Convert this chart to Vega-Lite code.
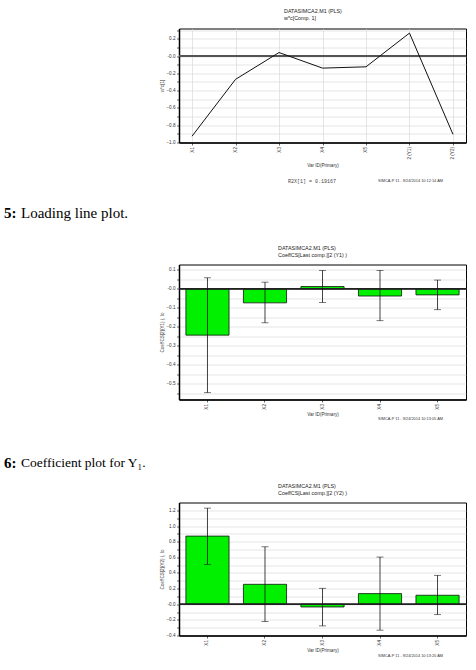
{
  "$schema": "https://vega.github.io/schema/vega-lite/v6.json",
  "background": "white",
  "padding": {"left": 4, "top": 7.5, "right": 0, "bottom": 0},
  "bounds": "flush",
  "spacing": 0,
  "config": {
    "font": "Liberation Sans",
    "view": {"stroke": "#000", "strokeWidth": 1},
    "axis": {
      "labelFont": "Liberation Sans", "labelFontSize": 4.6, "labelColor": "#333",
      "titleFont": "Liberation Sans", "titleFontSize": 4.6, "titleFontWeight": "normal", "titleColor": "#333",
      "domainColor": "#000", "domainWidth": 1.5, "tickColor": "#000", "tickSize": 2.5, "tickWidth": 0.6,
      "gridColor": "#d4d4d4", "gridWidth": 0.6, "labelPadding": 1.5,
      "labelOverlap": false, "labelFlush": false, "labelBound": false
    },
    "title": {"font": "Liberation Sans", "fontSize": 5.4, "fontWeight": "normal", "color": "#222", "anchor": "start", "frame": "group", "offset": 6, "lineHeight": 7}
  },
  "datasets": {
    "loadings": [
      {"var": "X1", "wc": -0.927},
      {"var": "X2", "wc": -0.27},
      {"var": "X3", "wc": 0.04},
      {"var": "X4", "wc": -0.14},
      {"var": "X5", "wc": -0.125},
      {"var": "2 (Y1)", "wc": 0.265},
      {"var": "2 (Y2)", "wc": -0.905}
    ],
    "coefY1": [
      {"var": "X1", "coef": -0.244, "lo": -0.547, "hi": 0.058},
      {"var": "X2", "coef": -0.074, "lo": -0.179, "hi": 0.035},
      {"var": "X3", "coef": 0.012, "lo": -0.072, "hi": 0.097},
      {"var": "X4", "coef": -0.038, "lo": -0.168, "hi": 0.097},
      {"var": "X5", "coef": -0.032, "lo": -0.11, "hi": 0.046}
    ],
    "coefY2": [
      {"var": "X1", "coef": 0.872, "lo": 0.51, "hi": 1.23},
      {"var": "X2", "coef": 0.255, "lo": -0.222, "hi": 0.735},
      {"var": "X3", "coef": -0.035, "lo": -0.277, "hi": 0.204},
      {"var": "X4", "coef": 0.136, "lo": -0.332, "hi": 0.604},
      {"var": "X5", "coef": 0.115, "lo": -0.133, "hi": 0.37}
    ]
  },
  "vconcat": [
    {
      "width": 287, "height": 114,
      "title": {"text": ["DATASIMCA2.M1 (PLS)", "w*c[Comp. 1]"], "dx": 105},
      "data": {"name": "loadings"},
      "layer": [
        {
          "mark": {"type": "rule", "color": "#555", "strokeWidth": 1.3},
          "encoding": {"y": {"datum": 0, "type": "quantitative"}}
        },
        {
          "mark": {"type": "line", "color": "#111", "strokeWidth": 1},
          "encoding": {
            "x": {"field": "var", "type": "nominal", "sort": null, "scale": {"type": "point", "padding": 0.3},
              "axis": {"title": "Var ID(Primary)", "labelAngle": -90, "grid": true, "titlePadding": 3}},
            "y": {"field": "wc", "type": "quantitative", "scale": {"domain": [-1.0, 0.318], "nice": false, "zero": false},
              "axis": {"title": "w*c[1]", "grid": true, "titlePadding": 1.5, "tickCount": 100,
                "values": [-1.0, -0.9, -0.8, -0.7, -0.6, -0.5, -0.4, -0.3, -0.2, -0.1, 0, 0.1, 0.2, 0.3],
                "labelExpr": "abs(datum.value) < 1e-6 ? '-0.0' : (round(datum.value*10) % 2 == 0 ? format(datum.value, '.1f') : '')"}}
          }
        }
      ]
    },
    {
      "width": 287, "height": 122,
      "view": {"stroke": null},
      "layer": [
        {"data": {"values": [{"note": "R2X[1] = 0.19167"}]},
          "mark": {"type": "text", "align": "center", "baseline": "middle", "font": "Liberation Mono", "fontSize": 5, "color": "#444", "dx": -10.5, "dy": -23},
          "encoding": {"text": {"field": "note"}}},
        {"data": {"values": [{"note": "SIMCA-P 11 - 9/24/2014 10:12:14 AM"}]},
          "mark": {"type": "text", "align": "right", "baseline": "middle", "fontSize": 3.9, "color": "#333", "dx": 120.5, "dy": -23},
          "encoding": {"text": {"field": "note"}}},
        {"data": {"values": [{"num": "5:"}]},
          "mark": {"type": "text", "align": "left", "baseline": "middle", "font": "Liberation Serif", "fontSize": 15, "fontWeight": "bold", "color": "#000", "dx": -318.5, "dy": 9.5},
          "encoding": {"text": {"field": "num"}}},
        {"data": {"values": [{"caption": "Loading line plot."}]},
          "mark": {"type": "text", "align": "left", "baseline": "middle", "font": "Liberation Serif", "fontSize": 15, "color": "#000", "dx": -301.5, "dy": 9.5},
          "encoding": {"text": {"field": "caption"}}}
      ]
    },
    {
      "width": 287, "height": 135,
      "title": {"text": ["DATASIMCA2.M1 (PLS)", "CoeffCS[Last comp.][2 (Y1)   )"], "dx": 99},
      "data": {"name": "coefY1"},
      "layer": [
        {
          "mark": {"type": "bar", "color": "#00f000", "stroke": "#111", "strokeWidth": 0.8},
          "encoding": {
            "x": {"field": "var", "type": "nominal", "sort": null, "scale": {"paddingInner": 0.25, "paddingOuter": 0.12},
              "axis": {"title": "Var ID(Primary)", "labelAngle": -90, "titlePadding": 2.5}},
            "y": {"field": "coef", "type": "quantitative", "scale": {"domain": [-0.583, 0.128], "nice": false, "zero": false},
              "axis": {"title": "CoeffCS[2](Y1)    )", "grid": true, "titlePadding": 1.5, "tickCount": 100,
                "values": [-0.55, -0.5, -0.45, -0.4, -0.35, -0.3, -0.25, -0.2, -0.15, -0.1, -0.05, 0, 0.05, 0.1],
                "labelExpr": "abs(datum.value) < 1e-6 ? '-0.0' : (round(datum.value*20) % 2 == 0 ? format(datum.value, '.1f') : '')"}}
          }
        },
        {
          "mark": {"type": "rule", "color": "#222", "strokeWidth": 1},
          "encoding": {"y": {"datum": 0, "type": "quantitative"}}
        },
        {
          "mark": {"type": "errorbar", "ticks": true, "size": 7, "thickness": 0.8, "color": "#111"},
          "encoding": {
            "x": {"field": "var", "type": "nominal", "sort": null},
            "y": {"field": "lo", "type": "quantitative"},
            "y2": {"field": "hi"}
          }
        }
      ]
    },
    {
      "width": 287, "height": 103,
      "view": {"stroke": null},
      "layer": [
        {"data": {"values": [{"note": "SIMCA-P 11 - 9/24/2014 10:13:05 AM"}]},
          "mark": {"type": "text", "align": "right", "baseline": "middle", "fontSize": 3.9, "color": "#333", "dx": 120.5, "dy": -32.2},
          "encoding": {"text": {"field": "note"}}},
        {"data": {"values": [{"num": "6:"}]},
          "mark": {"type": "text", "align": "left", "baseline": "middle", "font": "Liberation Serif", "fontSize": 15, "fontWeight": "bold", "color": "#000", "dx": -318.5, "dy": 11.5},
          "encoding": {"text": {"field": "num"}}},
        {"data": {"values": [{"caption": "Coefficient plot for Y₁."}]},
          "mark": {"type": "text", "align": "left", "baseline": "middle", "font": "Liberation Serif", "fontSize": 13.5, "color": "#000", "dx": -301.5, "dy": 12},
          "encoding": {"text": {"field": "caption"}}}
      ]
    },
    {
      "width": 287, "height": 133,
      "title": {"text": ["DATASIMCA2.M1 (PLS)", "CoeffCS[Last comp.][2 (Y2)   )"], "dx": 99},
      "data": {"name": "coefY2"},
      "layer": [
        {
          "mark": {"type": "bar", "color": "#00f000", "stroke": "#111", "strokeWidth": 0.8},
          "encoding": {
            "x": {"field": "var", "type": "nominal", "sort": null, "scale": {"paddingInner": 0.25, "paddingOuter": 0.12},
              "axis": {"title": "Var ID(Primary)", "labelAngle": -90, "titlePadding": 2.5}},
            "y": {"field": "coef", "type": "quantitative", "scale": {"domain": [-0.4, 1.302], "nice": false, "zero": false},
              "axis": {"title": "CoeffCS[2](Y2)    )", "grid": true, "titlePadding": 1.5, "tickCount": 100,
                "values": [-0.4, -0.3, -0.2, -0.1, 0, 0.1, 0.2, 0.3, 0.4, 0.5, 0.6, 0.7, 0.8, 0.9, 1.0, 1.1, 1.2],
                "labelExpr": "abs(datum.value) < 1e-6 ? '-0.0' : (round(datum.value*10) % 2 == 0 ? format(datum.value, '.1f') : '')"}}
          }
        },
        {
          "mark": {"type": "rule", "color": "#222", "strokeWidth": 1},
          "encoding": {"y": {"datum": 0, "type": "quantitative"}}
        },
        {
          "mark": {"type": "errorbar", "ticks": true, "size": 7, "thickness": 0.8, "color": "#111"},
          "encoding": {
            "x": {"field": "var", "type": "nominal", "sort": null},
            "y": {"field": "lo", "type": "quantitative"},
            "y2": {"field": "hi"}
          }
        }
      ]
    },
    {
      "width": 287, "height": 34,
      "view": {"stroke": null},
      "data": {"values": [{"note": "SIMCA-P 11 - 9/24/2014 10:13:20 AM"}]},
      "mark": {"type": "text", "align": "right", "baseline": "middle", "fontSize": 3.9, "color": "#333", "dx": 120.5, "dy": 3.7},
      "encoding": {"text": {"field": "note"}}
    }
  ]
}
